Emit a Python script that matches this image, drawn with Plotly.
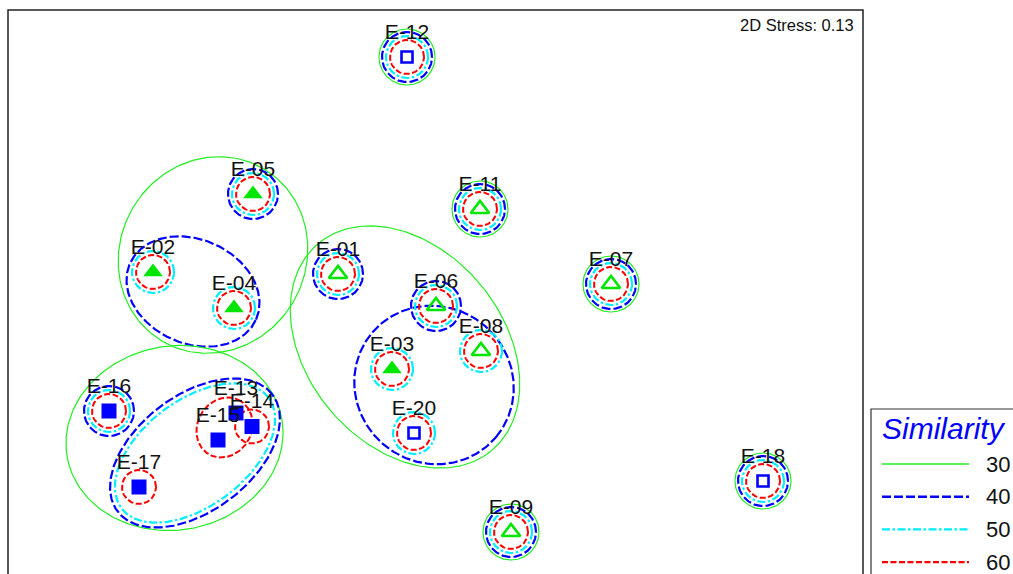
import numpy as np
import plotly.graph_objects as go

# nMDS ordination of 18 samples (axis units are arbitrary MDS distances)
samples = ["E-01", "E-02", "E-03", "E-04", "E-05", "E-06", "E-07", "E-08", "E-09",
           "E-11", "E-12", "E-13", "E-14", "E-15", "E-16", "E-17", "E-18", "E-20"]
mds1 = [-0.97, -2.82, -0.43, -2.01, -1.82, 0.01, 1.76, 0.46, 0.76,
        0.45, -0.28, -1.99, -1.83, -2.17, -3.26, -2.96, 3.28, -0.21]
mds2 = [0.16, 0.18, -0.79, -0.18, 0.96, -0.16, 0.06, -0.61, -2.42,
        0.81, 2.33, -1.23, -1.365, -1.50, -1.21, -1.97, -1.91, -1.43]
# site type: "A" = green triangle, "B" = blue square; filled or open
site_type = ["A", "A", "A", "A", "A", "A", "A", "A", "A",
             "A", "B", "B", "B", "B", "B", "B", "B", "B"]
filled = [False, True, True, True, True, False, False, False, False,
          False, False, True, True, True, True, True, False, False]

# similarity levels (%) and the samples that stand alone at each level
levels = [30, 40, 50, 60]
alone_30 = ["E-07", "E-09", "E-11", "E-12", "E-18"]
alone_40 = alone_30 + ["E-01", "E-05", "E-06", "E-16"]
alone_50 = alone_40 + ["E-02", "E-03", "E-04", "E-08", "E-20"]
alone_60 = alone_50 + ["E-14", "E-17"]
alone = {30: alone_30, 40: alone_40, 50: alone_50, 60: alone_60}
single_radius = {30: 0.28, 40: 0.25, 50: 0.21, 60: 0.17}

# cluster envelopes: level, centre x, centre y, semi-axis a, semi-axis b, tilt (deg)
env_level = [30, 40, 30, 40, 30, 40, 50, 60]
env_cx = [-2.22, -2.42, -0.30, -0.01, -2.605, -2.40, -2.40, -2.105]
env_cy = [0.35, -0.015, -0.57, -0.95, -1.48, -1.63, -1.63, -1.375]
env_a = [1.00, 0.69, 1.35, 0.81, 1.09, 0.97, 0.92, 0.31]
env_b = [0.93, 0.52, 0.98, 0.78, 0.92, 0.58, 0.53, 0.27]
env_tilt = [60, -24, -50, -40, 10, 37, 37, 59]

stress = 0.13

level_color = {30: "#22ee22", 40: "#0000ff", 50: "#00eeff", 60: "#ff0000"}
level_dash = {30: "solid", 40: "9px,3px", 50: "8px,2.5px,2.5px,2.5px", 60: "6px,2.5px"}
level_width = {30: 1.2, 40: 2.2, 50: 2.2, 60: 2.0}

W, H = 1013, 574
X_RANGE = [-4.35, 5.78]
Y_RANGE = [-2.84, 2.90]
FONT = "Arial, Liberation Sans, sans-serif"

fig = go.Figure()


def ellipse(cx, cy, a, b, tilt):
    t = np.linspace(0, 2 * np.pi, 241)
    th = np.radians(tilt)
    ex = a * np.cos(t)
    ey = b * np.sin(t)
    return (cx + ex * np.cos(th) - ey * np.sin(th),
            cy + ex * np.sin(th) + ey * np.cos(th))


# cluster envelopes
for lv, cx, cy, a, b, tl in zip(env_level, env_cx, env_cy, env_a, env_b, env_tilt):
    ex, ey = ellipse(cx, cy, a, b, tl)
    fig.add_trace(go.Scatter(x=ex, y=ey, mode="lines", hoverinfo="skip",
                             line=dict(color=level_color[lv], width=level_width[lv],
                                       dash=level_dash[lv])))

# single-sample circles
for lv in levels:
    r = single_radius[lv]
    for name, x, y in zip(samples, mds1, mds2):
        if name in alone[lv]:
            ex, ey = ellipse(x, y, r, r, 0)
            fig.add_trace(go.Scatter(x=ex, y=ey, mode="lines", hoverinfo="skip",
                                     line=dict(color=level_color[lv], width=level_width[lv],
                                               dash=level_dash[lv])))

# sample markers
for st, fl in [("A", True), ("A", False), ("B", True), ("B", False)]:
    idx = [i for i in range(len(samples)) if site_type[i] == st and filled[i] == fl]
    if st == "A":
        sym = "triangle-up" if fl else "triangle-up-open"
        col = "#00e600"
        size = 17 if fl else 16
    else:
        sym = "square" if fl else "square-open"
        col = "#0000ff"
        size = 15 if fl else 11
    fig.add_trace(go.Scatter(
        x=[mds1[i] for i in idx], y=[mds2[i] for i in idx], mode="markers",
        marker=dict(symbol=sym, size=size, color=col,
                    line=dict(color=col, width=2.6 if not fl else 0)),
        text=[samples[i] for i in idx], hoverinfo="text"))

# sample labels
fig.add_trace(go.Scatter(
    x=mds1, y=[v + 0.235 for v in mds2], mode="text", text=samples,
    textposition="middle center", hoverinfo="skip",
    textfont=dict(family=FONT, size=21, color="#111111")))

# plot frame
fig.add_shape(type="rect", xref="paper", yref="paper",
              x0=8 / W, x1=863 / W, y0=-0.2, y1=1 - 10 / H,
              line=dict(color="#222222", width=1.5), layer="above")

fig.add_annotation(text=f"2D Stress: {stress:.2f}", xref="paper", yref="paper",
                   x=856 / W, y=1 - 25 / H, xanchor="right", yanchor="middle",
                   showarrow=False,
                   font=dict(family=FONT, size=16.5, color="#111111"))

# similarity legend
fig.add_shape(type="rect", xref="paper", yref="paper",
              x0=871 / W, x1=1.1, y0=-0.2, y1=1 - 409 / H,
              line=dict(color="#333333", width=1.2))
fig.add_annotation(text="<i>Similarity</i>", xref="paper", yref="paper",
                   x=880 / W, y=1 - 428 / H, xanchor="left", yanchor="middle",
                   showarrow=False,
                   font=dict(family=FONT, size=30, color="#0000ff"))
for k, lv in enumerate(levels):
    ly = 1 - (464 + 32.7 * k) / H
    fig.add_shape(type="line", xref="paper", yref="paper",
                  x0=882 / W, x1=969 / W, y0=ly, y1=ly,
                  line=dict(color=level_color[lv], width=2.4 if lv != 30 else 1.5,
                            dash=level_dash[lv]))
    fig.add_annotation(text=str(lv), xref="paper", yref="paper",
                       x=984 / W, y=ly, xanchor="left", yanchor="middle", showarrow=False,
                       font=dict(family=FONT, size=22, color="#111111"))

fig.update_layout(
    width=W, height=H, margin=dict(l=0, r=0, t=0, b=0),
    paper_bgcolor="white", plot_bgcolor="white", showlegend=False,
    xaxis=dict(range=X_RANGE, visible=False, fixedrange=True),
    yaxis=dict(range=Y_RANGE, visible=False, fixedrange=True),
)

fig.write_html("out.html")
